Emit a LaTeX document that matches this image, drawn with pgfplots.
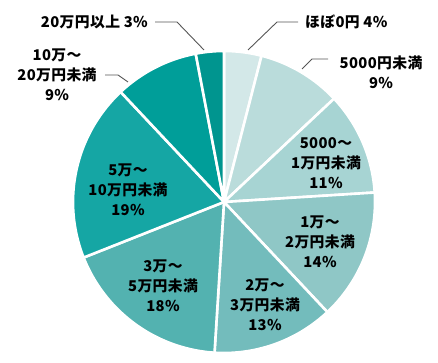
\documentclass[border=0pt]{standalone}
\usepackage{pgfplots}
\pgfplotsset{compat=1.18}
\usepackage{pgfplotstable}
\usepackage{fontspec}
\setmainfont{Noto Sans CJK JP}[LetterSpace=2.5]
\definecolor{c0}{HTML}{D3E8E8}
\definecolor{c1}{HTML}{BADCDB}
\definecolor{c2}{HTML}{A7D4D3}
\definecolor{c3}{HTML}{8FC7C6}
\definecolor{c4}{HTML}{73BCBC}
\definecolor{c5}{HTML}{53B2B0}
\definecolor{c6}{HTML}{15A6A4}
\definecolor{c7}{HTML}{009E99}
\definecolor{c8}{HTML}{00958F}
\definecolor{leader}{HTML}{555555}
\tikzset{lbl/.style={font=\bfseries\fontsize{14.8}{20}\selectfont, align=center, inner sep=0pt}}
\pgfplotstableread{
value color
4 c0
9 c1
11 c2
14 c3
13 c4
18 c5
19 c6
9 c7
3 c8
}\piedata
\begin{document}
\begin{tikzpicture}
\begin{axis}[x=1pt,y=1pt,xmin=-224,xmax=214,ymin=-161,ymax=202,
  hide axis, clip=false, enlargelimits=false]
\addplot[draw=none] coordinates {(-224,-161) (214,202)};
\def\cum{90}
\pgfplotsforeachungrouped \i in {0,...,8}{%
  \pgfplotstablegetelem{\i}{value}\of\piedata \let\v\pgfplotsretval
  \pgfplotstablegetelem{\i}{color}\of\piedata \let\c\pgfplotsretval
  \pgfmathsetmacro\endang{\cum-3.6*\v}%
  \edef\cmd{\noexpand\addplot[fill=\c, draw=white, line width=2.6pt, line join=round, domain=\endang:\cum, samples=80, variable=\noexpand\t] ({151*cos(\noexpand\t)},{151*sin(\noexpand\t)}) -- (axis cs:0,0) -- cycle;}%
  \cmd
  \global\let\cum\endang
}
% leader lines
\addplot[leader, line width=0.9pt] coordinates {(-69,180) (-47,180) (-20,152)};
\addplot[leader, line width=0.9pt] coordinates {(74,180) (53,180) (24,152)};
\addplot[leader, line width=0.9pt] coordinates {(-119,127) (-106,127) (-96,120)};
\addplot[leader, line width=0.9pt] coordinates {(104,143) (88,143) (78,133)};
% labels
\node[lbl, anchor=east] at (axis cs:-76,180) {20万円以上 3\%};
\node[lbl, anchor=west] at (axis cs:81,180) {ほぼ0円 4\%};
\node[lbl] at (axis cs:157,130) {5000円未満\\9\%};
\node[lbl] at (axis cs:-167,127) {10万～\\20万円未満\\9\%};
\node[lbl] at (axis cs:102,39) {5000～\\1万円未満\\11\%};
\node[lbl] at (axis cs:96,-40) {1万～\\2万円未満\\14\%};
\node[lbl] at (axis cs:41,-103) {2万～\\3万円未満\\13\%};
\node[lbl] at (axis cs:-61,-84) {3万～\\5万円未満\\18\%};
\node[lbl] at (axis cs:-96,12) {5万～\\10万円未満\\19\%};
\end{axis}
\end{tikzpicture}
\end{document}
